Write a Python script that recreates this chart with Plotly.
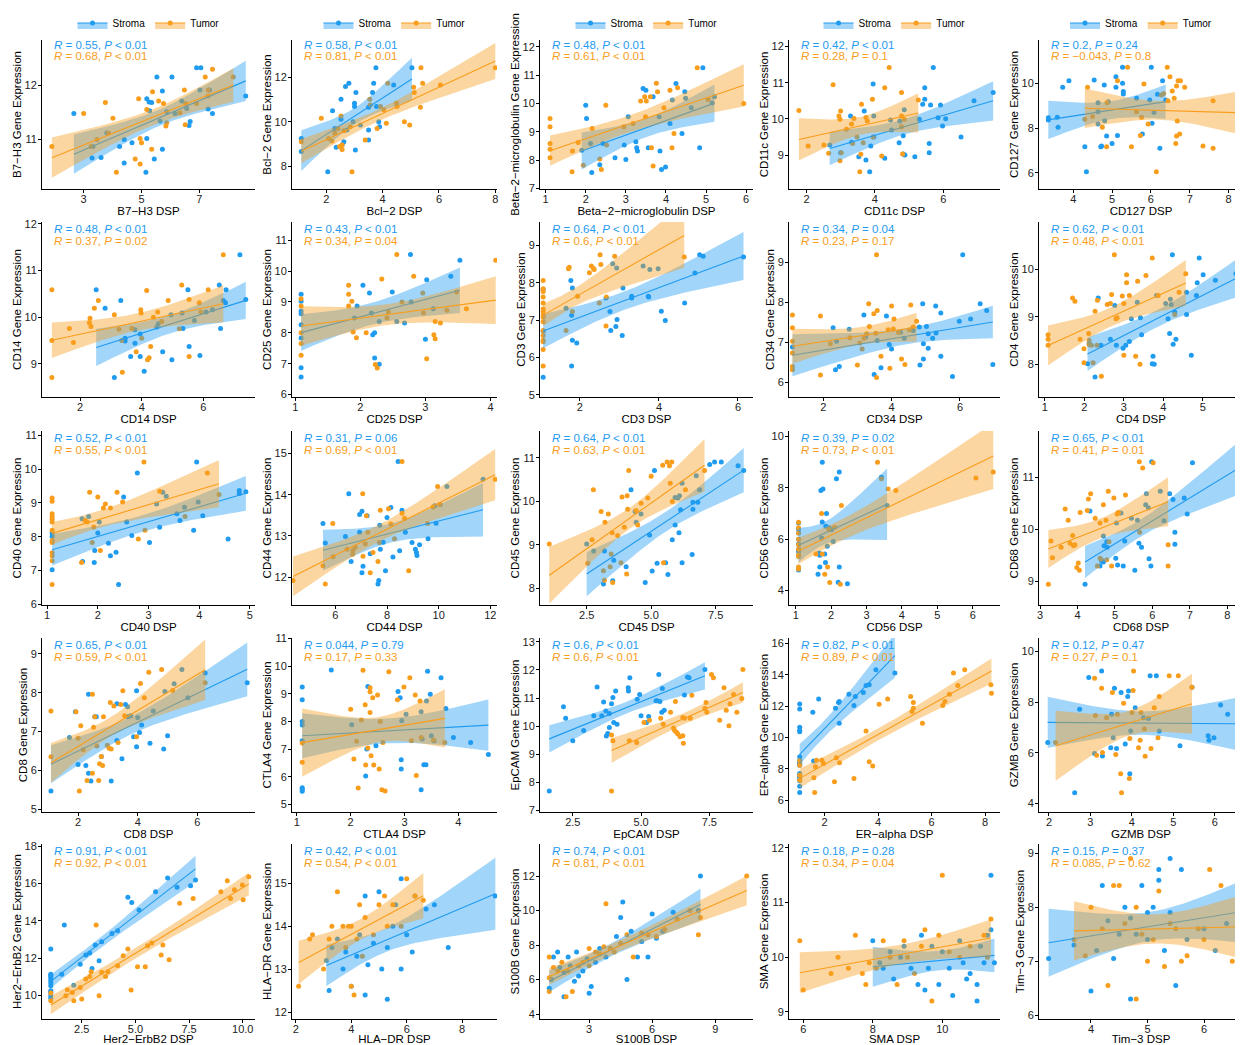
import numpy as np
import plotly.graph_objects as go

# The page body has an 8px default margin: pixel targets below are window pixels,
# converted to figure pixels by subtracting OFF.
OFF = 8
W, H = 1243 - OFF, 1045 - OFF
BLUE = "#1F9BF0"
ORANGE = "#F99D1C"
BLUE_FILL = "rgba(31,155,240,0.42)"
ORANGE_FILL = "rgba(249,157,28,0.42)"
FONT = "Liberation Sans, Arial, sans-serif"

# ---------------- data (x = DSP, y = gene expression) ----------------
B7H3_stroma = [(2.66,11.48),(3.29,10.66),(3.6,10.67),(3.32,10.87),(3.8,11.12),(4.24,10.87),(4.4,11.0),(4.4,10.57),(4.67,10.94),(5.18,11.02),(5.15,10.4),(5.44,10.64),(5.53,12.15),(5.72,11.89),(5.18,11.75),(5.26,11.69),(5.35,11.68),(5.28,11.53),(5.64,11.34),(5.72,10.82),(6.05,12.15),(5.87,11.51),(6.39,11.71),(6.56,11.57),(6.68,11.33),(6.64,11.26),(6.9,12.32),(7.05,12.32),(7.02,11.91),(7.3,11.56),(7.45,11.48),(7.35,11.91),(8.6,11.8),(6.16,11.48)]
B7H3_tumor = [(1.9,10.87),(3.0,11.48),(3.25,10.87),(3.46,11.0),(3.75,11.68),(3.86,11.12),(4.01,11.39),(4.13,10.4),(4.78,10.64),(4.9,11.75),(4.95,11.02),(4.95,10.55),(5.0,10.94),(5.18,11.55),(5.35,10.82),(5.38,11.88),(5.59,11.71),(5.76,11.66),(5.84,11.25),(5.87,11.31),(6.33,11.49),(6.48,11.91),(6.51,11.27),(6.53,11.66),(6.9,11.66),(7.2,12.15),(7.3,11.8),(7.3,11.91),(7.45,12.29),(8.17,12.15)]

BCL2_stroma = [(1.11,9.25),(1.11,8.66),(2.05,7.74),(2.22,10.5),(2.3,9.7),(2.35,8.85),(2.52,11.02),(2.52,10.12),(2.56,8.95),(2.62,9.1),(2.68,11.6),(2.8,11.74),(2.73,9.63),(3.0,10.84),(3.0,10.69),(3.05,11.32),(3.03,8.72),(2.95,10.0),(3.21,9.86),(3.5,10.66),(3.5,9.63),(3.5,9.18),(3.64,11.32),(3.68,11.74),(3.76,12.45),(3.78,10.69),(3.86,10.0),(3.89,9.78),(4.39,11.67),(5.04,12.45)]
BCL2_tumor = [(1.11,9.1),(1.82,10.16),(2.08,9.25),(2.2,9.13),(2.3,9.48),(2.41,9.7),(2.47,8.88),(2.56,8.75),(2.56,8.95),(2.52,10.26),(2.62,9.6),(2.91,7.74),(2.85,9.78),(3.38,9.18),(3.54,11.02),(3.56,10.76),(3.8,9.7),(3.92,10.69),(4.04,10.54),(4.13,9.93),(4.18,11.74),(4.49,10.84),(4.51,10.69),(4.77,10.0),(4.96,9.86),(5.1,11.56),(5.36,12.45),(5.42,11.74),(5.34,10.66),(5.12,11.32),(6.05,11.67),(8.0,12.45)]

B2M_stroma = [(1.9,8.35),(2.02,9.47),(2.12,8.59),(2.15,7.56),(2.0,9.94),(2.35,7.84),(2.43,8.59),(2.73,8.08),(2.96,8.53),(3.0,8.02),(3.06,9.53),(3.25,8.65),(3.27,8.44),(3.29,8.32),(3.43,10.53),(3.5,10.47),(3.56,8.44),(3.68,10.24),(3.83,9.53),(3.85,8.32),(3.89,7.67),(3.99,7.76),(4.1,9.29),(4.16,10.12),(4.25,10.7),(4.4,8.94),(4.47,10.41),(4.49,10.18),(4.63,9.85),(4.84,8.44),(4.92,11.26),(5.15,10.02),(5.21,10.24)]
B2M_tumor = [(1.11,9.47),(1.11,9.18),(1.11,8.59),(1.11,8.38),(1.11,8.08),(1.66,7.59),(1.67,8.32),(1.81,8.62),(1.94,7.82),(2.16,9.12),(2.35,8.04),(2.39,7.67),(2.5,9.94),(2.52,8.53),(2.95,9.18),(3.18,9.29),(3.37,10.09),(3.47,10.24),(3.49,9.53),(3.51,10.09),(3.61,10.24),(3.64,8.44),(3.68,7.79),(3.76,10.71),(3.79,10.41),(3.95,9.85),(4.1,10.47),(4.15,8.44),(4.2,8.94),(4.29,10.55),(4.78,11.26),(5.05,10.14),(5.94,10.0)]

CD11C_stroma = [(2.68,9.28),(3.0,9.06),(3.29,10.08),(3.32,9.35),(3.53,8.95),(3.69,10.22),(3.74,8.86),(3.85,8.54),(3.88,9.25),(3.95,10.96),(3.97,10.08),(3.97,9.5),(4.29,8.91),(4.46,9.97),(4.49,9.69),(4.71,9.34),(4.73,9.94),(4.83,9.53),(4.83,9.03),(4.88,9.0),(4.86,10.25),(5.17,8.95),(5.3,9.99),(5.4,10.4),(5.46,10.54),(5.46,10.86),(5.59,9.32),(5.59,9.06),(5.71,11.42),(5.63,10.38),(5.85,10.03),(5.92,10.38),(5.98,9.8),(6.07,10.0),(6.52,9.5),(6.9,10.5),(7.46,10.73)]
CD11C_tumor = [(1.78,10.23),(2.05,9.25),(2.51,9.28),(2.65,9.05),(2.78,10.94),(2.95,10.08),(2.98,9.99),(3.0,10.22),(2.98,8.84),(3.02,9.06),(3.17,9.71),(3.32,9.86),(3.35,9.32),(3.39,10.01),(3.48,9.5),(3.56,8.54),(3.59,9.02),(3.61,10.4),(3.66,9.34),(3.74,10.04),(3.78,9.94),(3.93,10.54),(3.95,9.5),(4.2,8.97),(4.29,10.86),(4.42,11.42),(4.78,10.73),(4.78,10.08),(4.78,9.78),(4.86,9.99),(4.81,9.03),(5.27,10.52)]

CD127_stroma = [(3.36,8.46),(3.36,8.36),(3.59,8.48),(3.61,8.03),(3.73,9.82),(3.89,10.12),(4.3,7.16),(4.34,6.04),(4.54,10.15),(4.64,9.13),(4.64,8.73),(4.64,8.18),(4.71,7.16),(4.73,7.19),(4.8,9.93),(4.81,8.33),(4.86,7.64),(4.9,9.18),(5.0,7.31),(5.1,10.3),(5.1,9.82),(5.14,7.66),(5.27,10.72),(5.27,10.0),(5.29,9.63),(5.29,9.52),(5.63,9.33),(5.78,7.73),(5.97,9.25),(6.01,10.72),(6.03,8.21),(6.08,8.7),(6.23,7.09),(6.3,10.12),(6.17,9.51),(6.38,9.25)]
CD127_tumor = [(4.3,8.39),(4.37,9.82),(4.5,8.51),(4.75,8.03),(4.86,7.16),(4.87,9.13),(5.14,10.12),(5.4,10.72),(5.5,7.16),(5.63,8.73),(5.73,7.66),(5.76,8.48),(5.82,9.97),(5.93,8.18),(6.14,6.04),(6.27,9.48),(6.33,9.55),(6.42,10.72),(6.44,9.22),(6.49,10.3),(6.55,9.66),(6.6,9.33),(6.64,7.31),(6.66,7.64),(6.66,9.88),(6.68,8.31),(6.7,10.12),(6.76,10.12),(6.74,7.73),(6.87,9.82),(7.34,7.19),(7.6,7.09),(7.6,9.22),(8.24,8.21),(8.34,8.69)]

CD14_stroma = [(2.52,10.59),(2.81,10.19),(3.11,8.71),(3.32,10.36),(3.46,9.49),(3.46,9.55),(3.64,9.16),(3.78,9.44),(3.78,9.73),(3.95,9.16),(3.95,9.64),(4.08,8.84),(4.49,9.79),(4.54,9.86),(4.68,9.26),(4.95,10.05),(4.98,9.09),(5.31,10.09),(5.34,9.76),(5.5,10.59),(5.54,9.37),(5.71,9.93),(5.89,9.18),(6.09,10.11),(6.3,10.16),(6.52,10.69),(6.56,9.76),(6.65,10.36),(6.72,10.31),(6.74,10.59),(7.19,11.34),(7.38,10.38)]
CD14_tumor = [(1.08,10.59),(1.08,9.5),(1.08,8.71),(1.65,9.76),(1.78,9.46),(2.3,9.88),(2.32,9.98),(2.35,9.8),(2.46,10.19),(2.59,10.36),(3.11,10.05),(3.26,9.74),(3.35,9.5),(3.37,8.82),(3.68,9.76),(3.82,9.26),(3.97,10.16),(3.98,10.09),(4.0,9.55),(4.16,10.57),(4.19,9.09),(4.24,9.13),(4.29,9.37),(4.38,10.0),(4.52,10.11),(4.65,9.91),(4.86,10.36),(5.22,9.75),(5.3,10.69),(5.54,10.38),(5.54,9.16),(5.87,10.31),(5.92,10.11),(6.16,10.59),(6.65,11.34)]

CD25_stroma = [(1.09,9.25),(1.09,9.02),(1.09,8.71),(1.09,8.62),(1.09,8.26),(1.09,7.83),(1.09,6.87),(1.09,6.57),(1.95,8.87),(1.91,8.48),(2.04,9.54),(2.14,9.29),(2.17,8.64),(2.19,7.94),(2.22,8.0),(2.22,7.18),(2.29,6.98),(2.29,8.37),(2.49,9.32),(2.56,8.37),(2.68,8.32),(2.77,10.54),(2.78,9.0),(3.0,7.79),(3.02,9.72),(3.39,9.83),(3.53,10.35),(3.12,8.78)]
CD25_tumor = [(1.09,8.87),(1.09,8.0),(1.09,7.65),(1.09,7.27),(1.09,9.1),(1.82,9.54),(1.82,9.25),(1.82,8.87),(1.87,9.02),(1.89,8.03),(1.94,7.84),(2.09,8.0),(2.23,6.97),(2.26,6.86),(2.33,9.74),(2.41,8.48),(2.43,8.68),(2.56,10.54),(2.64,9.0),(2.82,9.83),(2.97,8.64),(2.96,9.29),(3.02,7.16),(3.13,7.94),(3.15,7.81),(3.15,8.37),(3.23,8.32),(3.33,8.73),(3.48,9.32),(3.63,8.78),(4.08,10.35)]

CD3_stroma = [(1.07,7.82),(1.07,6.7),(1.07,5.47),(1.65,7.32),(1.77,8.06),(1.81,7.86),(1.79,7.13),(1.81,6.46),(1.79,5.77),(1.92,6.39),(2.66,7.59),(2.76,7.23),(2.78,6.72),(2.83,8.51),(2.91,6.83),(2.93,8.4),(2.94,7.02),(3.07,6.59),(3.09,7.86),(3.31,7.64),(3.31,7.59),(3.6,8.45),(3.73,7.64),(3.74,7.62),(3.77,8.36),(3.98,8.38),(4.06,7.24),(4.16,6.99),(4.65,7.46),(4.91,8.26),(5.03,8.75),(5.12,8.71),(6.14,8.69)]
CD3_tumor = [(1.07,8.06),(1.07,7.84),(1.07,7.77),(1.07,7.62),(1.07,7.46),(1.07,7.3),(1.07,7.23),(1.07,7.14),(1.07,7.08),(1.07,6.96),(1.07,6.72),(1.07,6.59),(1.07,6.46),(1.07,6.42),(1.07,6.21),(1.07,5.77),(1.65,6.72),(1.71,8.38),(1.73,8.42),(1.81,7.23),(1.94,7.64),(2.24,8.27),(2.29,8.45),(2.34,8.39),(2.36,8.36),(2.49,7.46),(2.51,8.75),(2.53,8.49),(2.66,6.84),(2.67,7.62),(2.88,8.71),(4.64,8.69)]

CD34_stroma = [(1.1,6.88),(2.29,7.36),(2.39,7.02),(2.36,6.31),(2.47,6.39),(2.76,7.32),(3.19,7.68),(3.24,7.13),(3.58,7.04),(3.49,6.19),(3.85,7.65),(3.69,6.36),(3.93,6.94),(4.0,6.83),(4.26,7.25),(4.37,7.1),(4.63,7.29),(4.81,7.38),(4.83,6.43),(4.91,7.96),(4.93,6.96),(4.93,6.58),(5.02,7.39),(5.07,6.85),(5.07,7.21),(5.2,7.1),(5.29,7.9),(5.3,7.23),(5.44,7.73),(5.44,6.65),(5.78,6.14),(5.98,7.52),(6.08,9.18),(6.31,7.58),(6.59,7.96),(6.78,7.79),(6.96,6.44)]
CD34_tumor = [(1.1,7.68),(1.1,7.36),(1.1,7.02),(1.1,6.73),(1.1,6.39),(1.1,6.31),(1.92,7.65),(1.92,6.18),(2.21,6.96),(2.78,7.11),(3.0,6.43),(3.07,6.98),(3.14,6.83),(3.19,7.1),(3.27,7.21),(3.33,7.96),(3.35,7.39),(3.48,7.71),(3.54,7.22),(3.56,9.18),(3.56,6.12),(3.58,7.79),(3.69,6.65),(3.9,7.31),(3.95,6.35),(4.0,7.9),(4.05,7.33),(4.07,7.58),(4.2,7.25),(4.29,6.58),(4.39,6.44),(4.52,7.31),(4.56,7.93),(4.63,7.38),(4.73,7.52)]

CD4_stroma = [(2.08,8.01),(2.12,8.44),(2.27,7.73),(2.35,9.4),(2.42,8.4),(2.66,8.53),(2.77,9.24),(2.81,8.4),(2.98,8.34),(3.05,8.4),(3.14,8.48),(3.19,8.96),(3.34,9.31),(3.42,8.98),(3.45,8.62),(3.72,8.01),(3.74,8.17),(3.77,8.0),(3.83,9.45),(4.06,9.28),(4.12,8.96),(4.16,8.65),(4.18,9.37),(4.2,9.26),(4.25,8.42),(4.23,10.31),(4.29,9.1),(4.32,8.53),(4.59,9.52),(4.59,9.05),(4.71,8.19),(4.84,9.45),(4.86,9.72),(4.91,10.24),(5.01,9.89),(5.32,9.77),(5.84,9.91),(5.98,9.89)]
CD4_tumor = [(1.08,8.62),(1.08,8.53),(1.08,8.4),(1.7,9.4),(1.76,9.33),(1.89,8.53),(1.99,8.33),(1.99,8.03),(2.11,8.65),(2.12,8.5),(2.12,8.41),(2.18,8.4),(2.22,8.03),(2.27,9.12),(2.32,8.4),(2.33,9.35),(2.43,7.75),(2.58,9.26),(2.66,9.28),(2.69,9.47),(2.76,10.31),(2.8,8.96),(2.83,8.98),(2.96,9.44),(3.0,9.28),(3.0,8.19),(3.07,9.89),(3.07,9.72),(3.14,9.45),(3.3,8.17),(3.35,9.75),(3.41,8.0),(3.56,9.87),(3.72,10.24),(3.87,9.45),(4.29,9.05),(4.4,9.52),(4.57,9.91)]

CD40_stroma = [(1.1,8.11),(1.1,8.01),(1.1,7.02),(1.69,8.53),(1.7,7.27),(1.82,8.6),(1.93,7.24),(1.94,7.59),(2.0,8.11),(2.03,8.44),(2.21,7.81),(2.25,7.44),(2.36,7.54),(2.41,6.59),(2.51,9.18),(2.57,8.44),(2.67,8.04),(2.78,9.89),(3.02,7.83),(3.16,8.97),(3.22,8.28),(3.28,9.32),(3.35,9.2),(3.56,8.68),(3.62,8.48),(3.71,8.87),(3.89,8.19),(3.95,10.21),(3.98,9.03),(4.07,8.62),(4.57,7.93),(4.79,9.28),(4.79,9.37),(4.92,9.33)]
CD40_tumor = [(1.1,9.15),(1.1,9.05),(1.1,8.68),(1.1,8.6),(1.1,8.52),(1.1,8.44),(1.1,8.19),(1.1,7.89),(1.1,7.83),(1.1,7.53),(1.1,7.44),(1.1,7.29),(1.1,6.59),(1.68,7.24),(1.75,8.48),(1.79,8.44),(1.84,9.32),(1.89,7.83),(1.92,8.29),(2.0,9.18),(2.05,7.59),(2.11,8.85),(2.15,8.97),(2.25,8.85),(2.38,9.32),(2.49,9.03),(2.8,7.93),(2.91,10.21),(2.93,8.19),(3.22,9.35),(3.72,8.6),(4.16,9.89),(4.39,9.25)]

CD44_stroma = [(5.52,13.3),(5.61,12.83),(6.39,12.99),(6.52,14.02),(6.61,12.38),(6.94,13.52),(6.94,13.09),(7.03,13.6),(7.03,12.11),(7.07,12.27),(7.23,13.49),(7.35,12.57),(7.65,11.84),(7.68,11.92),(7.72,13.26),(7.74,12.68),(7.85,12.85),(7.94,12.16),(8.0,13.45),(8.15,13.69),(8.23,12.49),(8.43,14.8),(8.49,12.64),(8.58,13.62),(8.71,13.09),(8.97,12.84),(9.1,12.68),(9.14,12.6),(9.16,12.53),(9.26,12.79),(9.59,12.93),(9.85,13.73),(9.9,13.31),(10.06,13.76),(10.32,14.2),(11.72,14.37)]
CD44_tumor = [(4.36,11.92),(5.52,12.28),(5.61,11.84),(5.9,13.3),(5.91,12.5),(6.45,12.68),(6.67,12.56),(6.68,12.65),(6.77,12.73),(7.06,14.02),(7.07,12.51),(7.16,12.81),(7.2,13.49),(7.26,13.09),(7.35,12.11),(7.46,12.6),(7.65,12.38),(7.7,12.84),(7.74,13.62),(8.06,13.66),(8.15,13.29),(8.29,12.93),(8.58,14.8),(8.58,13.55),(8.68,13.43),(8.84,12.16),(9.57,13.3),(9.78,13.7),(9.96,14.2),(10.04,13.76),(12.19,14.37)]

CD45_stroma = [(2.5,9.02),(2.77,8.86),(3.19,8.86),(3.15,8.1),(3.51,8.18),(3.55,8.65),(4.03,8.5),(4.22,10.27),(4.38,9.77),(4.42,9.52),(4.61,9.71),(4.77,8.14),(4.94,9.23),(5.04,8.4),(5.13,10.71),(5.23,8.58),(5.56,8.59),(5.65,8.32),(5.82,9.12),(5.93,9.46),(5.93,10.09),(6.04,10.08),(6.1,10.13),(6.08,9.28),(6.14,9.81),(6.2,8.59),(6.2,10.42),(6.59,8.78),(6.62,9.98),(6.62,9.82),(6.75,10.59),(6.81,9.98),(6.88,10.27),(7.27,10.85),(7.46,10.91),(7.72,10.91),(8.37,10.82),(8.59,10.71)]
CD45_tumor = [(1.05,9.02),(2.54,8.58),(2.71,9.12),(2.76,10.27),(3.06,9.77),(3.15,8.41),(3.19,8.19),(3.21,9.52),(3.34,9.71),(3.41,8.5),(3.45,8.79),(3.49,9.28),(3.51,8.14),(3.7,9.22),(3.83,8.59),(3.87,10.1),(3.96,9.41),(4.07,10.13),(4.09,9.82),(4.05,8.33),(4.13,10.71),(4.42,9.79),(4.48,9.46),(4.61,9.96),(4.87,10.08),(5.0,10.58),(5.45,10.83),(5.48,8.59),(5.62,10.91),(5.71,10.82),(5.74,10.42),(5.8,10.91),(5.82,10.0),(6.33,10.27),(7.07,10.71)]

CD56_stroma = [(1.08,6.63),(1.08,6.4),(1.08,6.24),(1.08,6.0),(1.08,5.81),(1.08,5.61),(1.08,5.52),(1.08,5.33),(1.08,4.8),(1.66,5.46),(1.68,5.37),(1.68,4.91),(1.63,4.63),(1.71,7.9),(1.73,6.04),(1.75,6.67),(1.75,9.0),(1.77,7.96),(1.82,5.42),(1.84,5.09),(1.85,6.5),(1.87,7.0),(1.89,5.72),(1.94,6.44),(2.01,6.37),(2.06,5.91),(2.15,8.36),(2.2,4.32),(2.23,8.62),(2.23,4.91),(2.46,4.26),(3.42,8.42),(3.58,7.31)]
CD56_tumor = [(1.08,6.66),(1.08,6.44),(1.08,6.24),(1.08,6.0),(1.08,5.78),(1.08,5.61),(1.08,5.39),(1.08,5.33),(1.08,4.91),(1.08,4.83),(1.57,5.42),(1.73,7.0),(1.75,5.42),(1.82,4.63),(1.9,4.91),(1.94,6.37),(1.96,4.31),(2.1,6.46),(2.26,4.24),(2.29,7.31),(3.31,9.0),(3.42,8.36),(3.61,7.96),(3.83,7.9),(6.09,8.39),(6.58,8.62)]

CD68_stroma = [(4.2,8.94),(4.33,10.35),(4.6,9.29),(4.64,9.39),(4.69,9.87),(4.69,9.37),(4.71,9.68),(4.78,9.76),(4.79,9.65),(5.02,9.44),(5.07,9.31),(5.04,10.12),(5.16,10.31),(5.22,9.29),(5.26,9.77),(5.44,10.21),(5.53,9.21),(5.6,10.17),(5.64,9.73),(5.71,9.65),(5.84,10.68),(5.82,10.47),(5.89,10.41),(5.91,9.43),(5.96,9.29),(5.98,11.3),(6.21,10.73),(6.31,10.16),(6.46,10.68),(6.55,10.57),(6.6,9.94),(6.6,9.71),(6.85,10.6),(6.93,10.29),(7.07,11.28),(8.37,11.2)]
CD68_tumor = [(3.22,8.94),(3.29,9.77),(3.33,9.45),(3.56,9.65),(3.67,10.39),(3.75,10.17),(3.8,9.73),(3.87,9.88),(3.89,9.68),(3.93,9.7),(3.98,9.26),(4.02,9.35),(4.05,9.21),(4.07,10.32),(4.26,10.36),(4.29,10.58),(4.35,10.68),(4.47,10.21),(4.53,9.29),(4.6,10.12),(4.6,9.44),(4.63,9.42),(4.69,10.47),(4.76,10.17),(4.78,9.41),(4.82,10.73),(4.84,9.76),(4.91,9.29),(4.97,10.6),(5.06,10.29),(5.09,10.32),(5.28,10.66),(5.65,11.3),(5.74,11.18),(5.66,9.94),(6.02,11.28),(6.42,9.7),(6.42,9.29)]

CD8_stroma = [(1.09,5.47),(1.71,6.85),(1.91,7.51),(2.0,6.15),(2.26,6.13),(2.35,5.93),(2.35,7.96),(2.43,5.73),(2.56,7.38),(2.61,7.38),(2.78,6.36),(3.11,5.73),(3.3,6.77),(3.3,7.72),(3.47,6.3),(3.59,7.7),(3.67,7.38),(3.66,7.64),(3.76,7.41),(3.86,6.87),(3.96,8.05),(3.96,6.61),(4.0,7.36),(4.06,6.98),(4.13,7.17),(4.41,6.7),(4.52,7.53),(4.87,6.55),(4.91,8.03),(5.0,6.89),(5.22,8.23),(5.48,8.6),(5.68,7.87),(6.26,8.51),(7.67,8.26)]
CD8_tumor = [(1.09,7.53),(1.09,6.35),(1.93,7.51),(2.0,6.83),(2.04,5.47),(2.09,7.15),(2.17,6.53),(2.3,5.74),(2.48,5.93),(2.48,7.96),(2.52,7.11),(2.56,7.38),(2.63,6.63),(2.69,5.74),(2.72,6.17),(2.78,6.36),(2.82,6.13),(2.85,7.38),(2.98,6.65),(3.04,6.57),(3.08,7.75),(3.11,6.55),(3.2,7.66),(3.34,6.72),(3.43,7.7),(3.5,8.05),(3.56,7.41),(3.96,6.87),(4.09,8.24),(4.22,7.87),(4.37,8.53),(4.8,8.6),(5.17,8.06),(6.26,8.26)]

CTLA4_stroma = [(1.1,9.25),(1.1,8.78),(1.1,8.0),(1.1,7.87),(1.1,7.3),(1.1,5.6),(1.1,5.54),(1.1,5.47),(1.64,9.86),(2.02,7.88),(2.28,6.02),(2.3,7.0),(2.32,9.26),(2.47,7.12),(2.88,9.08),(2.92,8.86),(2.94,6.61),(2.94,6.28),(2.95,8.02),(3.03,8.26),(3.31,8.35),(3.31,5.53),(3.33,7.36),(3.36,6.43),(3.4,6.43),(3.41,8.74),(3.43,9.82),(3.48,8.98),(3.5,7.48),(3.55,7.3),(3.68,9.58),(3.77,8.47),(3.91,7.42),(4.23,7.24),(4.56,6.8)]
CTLA4_tumor = [(1.1,7.22),(1.1,6.52),(2.0,8.44),(2.06,6.64),(2.14,5.59),(2.11,7.28),(2.2,8.05),(2.23,9.85),(2.27,8.6),(2.28,6.42),(2.32,7.04),(2.36,9.22),(2.36,9.07),(2.36,8.32),(2.38,6.76),(2.41,8.86),(2.43,6.42),(2.5,8.96),(2.53,6.28),(2.55,8.0),(2.58,5.53),(2.6,7.24),(2.64,5.48),(2.71,9.8),(2.87,8.78),(2.99,9.25),(3.1,9.58),(3.13,7.3),(3.2,8.96),(3.22,6.04),(3.29,8.74),(3.31,7.42),(3.54,7.33),(3.75,7.24)]

EPCAM_stroma = [(1.64,7.69),(2.16,10.69),(2.24,10.28),(2.5,9.48),(2.9,9.84),(3.27,10.37),(3.56,10.37),(3.39,11.39),(3.63,10.86),(3.71,10.54),(3.73,9.65),(3.78,9.74),(3.84,9.95),(3.84,10.45),(3.92,10.8),(3.97,11.02),(4.0,10.13),(4.07,11.25),(4.12,10.07),(4.59,11.72),(4.53,11.37),(4.54,11.25),(4.86,10.96),(4.95,11.13),(5.0,10.37),(5.2,10.13),(5.28,10.34),(5.55,10.9),(5.58,10.9),(5.65,11.84),(5.69,10.88),(5.76,10.49),(5.78,11.34),(5.85,10.57),(6.59,11.11),(6.7,11.75),(6.76,11.72),(7.34,12.02)]
EPCAM_tumor = [(3.92,7.69),(3.92,9.68),(3.97,9.48),(4.57,9.48),(4.84,9.42),(5.11,10.13),(5.31,10.21),(5.72,10.28),(5.81,10.07),(6.08,10.49),(6.19,9.93),(6.23,9.84),(6.3,9.78),(6.35,9.72),(6.43,9.62),(6.53,9.66),(6.55,9.39),(6.26,10.88),(6.53,10.31),(6.59,10.28),(6.8,10.28),(6.86,11.1),(7.34,10.63),(7.38,10.84),(7.41,10.49),(7.58,11.84),(7.65,11.72),(7.88,10.21),(8.04,11.37),(8.22,10.01),(8.26,10.8),(8.39,11.13),(8.51,10.49),(8.73,12.02),(8.69,10.98),(8.12,10.57)]

ERA_stroma = [(1.07,12.15),(1.07,11.83),(1.07,10.66),(1.07,10.45),(1.07,10.38),(1.07,8.78),(1.07,8.56),(1.07,8.41),(1.07,8.35),(1.07,8.24),(1.07,7.71),(1.07,7.6),(1.07,7.5),(1.07,7.39),(1.07,7.24),(1.07,6.9),(1.07,6.49),(1.56,11.62),(1.59,8.5),(1.78,12.47),(2.41,11.88),(2.52,12.24),(2.55,12.3),(2.55,10.91),(2.91,12.77),(3.1,12.05),(3.15,12.62),(3.45,12.88),(3.55,13.33),(3.67,13.37),(3.92,14.33),(4.63,14.12)]
ERA_tumor = [(1.07,8.52),(1.07,8.24),(1.07,7.6),(1.07,7.28),(1.6,7.43),(1.63,6.49),(1.66,8.14),(1.7,8.56),(1.9,8.56),(1.96,8.35),(2.37,7.18),(2.44,8.71),(2.56,8.39),(3.1,7.39),(3.55,10.42),(3.67,8.46),(3.8,8.18),(4.04,12.13),(4.36,12.47),(5.22,12.62),(5.27,11.66),(5.32,12.24),(5.32,11.88),(5.66,10.91),(6.42,12.05),(6.5,12.3),(6.67,12.77),(6.82,14.12),(6.98,13.33),(7.24,14.33),(8.22,13.37),(8.24,12.84)]

GZMB_stroma = [(1.97,6.41),(2.62,4.43),(2.74,7.72),(2.96,8.97),(3.1,5.98),(3.27,9.23),(3.29,5.88),(3.49,6.2),(3.51,7.52),(3.55,6.6),(3.58,8.55),(3.63,6.17),(3.74,8.38),(3.84,6.35),(3.9,8.22),(3.92,8.44),(3.95,5.18),(3.97,6.86),(4.08,7.78),(4.28,7.39),(4.4,7.36),(4.44,9.04),(4.59,9.04),(4.66,6.86),(5.16,6.28),(5.45,8.59),(5.84,6.68),(5.86,6.5),(5.98,6.6),(6.14,7.89),(6.31,7.52),(6.68,4.99)]
GZMB_tumor = [(2.16,6.41),(3.1,8.94),(3.12,7.47),(3.15,5.91),(3.27,8.55),(3.29,6.02),(3.39,7.39),(3.53,8.38),(3.61,5.94),(3.65,7.52),(3.73,5.18),(3.75,4.43),(3.8,7.96),(3.94,4.99),(3.95,6.57),(4.0,7.59),(4.03,8.46),(4.04,9.23),(4.16,6.2),(4.2,6.5),(4.22,7.59),(4.3,6.94),(4.32,5.87),(4.46,6.17),(4.54,7.78),(4.63,6.6),(4.66,8.22),(4.9,9.04),(5.12,9.04),(5.45,8.59)]

HER2_stroma = [(1.06,12.48),(1.06,11.13),(1.06,11.08),(1.06,11.01),(1.06,10.9),(1.06,10.78),(1.06,10.65),(1.06,10.51),(1.06,10.24),(1.06,10.19),(1.06,10.12),(1.06,9.97),(1.06,9.83),(1.57,11.13),(1.69,13.77),(2.13,10.54),(2.43,11.67),(2.69,12.16),(2.87,12.27),(2.98,11.44),(3.13,12.7),(3.31,11.85),(3.43,12.87),(3.91,13.32),(4.17,13.47),(4.65,15.26),(4.83,14.99),(5.17,14.58),(5.94,15.56),(6.5,16.3),(6.94,15.8),(7.57,15.88),(7.8,16.2)]
HER2_tumor = [(1.06,10.12),(1.06,9.7),(1.76,9.97),(1.83,10.29),(2.06,10.15),(2.13,9.7),(2.43,10.42),(2.5,9.79),(2.69,10.87),(2.87,11.0),(2.94,11.26),(3.17,13.77),(3.31,9.97),(3.43,11.23),(3.61,11.0),(3.72,11.26),(4.17,11.58),(4.43,12.12),(4.65,12.48),(4.8,10.28),(5.1,11.53),(5.46,11.53),(5.57,12.66),(5.76,12.8),(6.28,12.7),(6.2,12.16),(6.57,11.91),(7.06,14.95),(7.69,15.2),(8.98,15.56),(9.28,16.15),(9.43,15.2),(9.61,15.67),(9.98,15.92),(10.02,15.13),(10.28,16.37)]

HLADR_stroma = [(3.1,13.2),(3.2,12.5),(3.3,13.5),(3.5,13.7),(3.7,13.0),(3.8,13.4),(4.0,12.6),(4.2,13.3),(4.3,13.8),(4.5,14.7),(4.5,12.4),(4.6,13.1),(4.8,13.6),(5.0,14.8),(5.1,13.0),(5.3,12.3),(5.3,13.5),(5.5,14.0),(5.6,14.5),(5.8,15.1),(5.8,13.0),(6.0,13.8),(6.2,13.4),(6.3,14.7),(6.7,14.4),(7.0,14.5),(7.5,13.5),(9.2,14.7)]
HLADR_tumor = [(2.1,12.6),(2.5,13.7),(2.6,13.8),(3.0,13.0),(3.2,13.7),(3.3,14.0),(3.5,14.8),(3.7,14.0),(3.8,13.5),(3.9,14.0),(4.0,14.0),(4.0,12.6),(4.1,12.4),(4.2,13.7),(4.3,14.5),(4.4,13.3),(4.5,14.2),(4.8,13.8),(5.0,14.5),(5.2,14.7),(5.3,14.0),(5.5,14.5),(5.8,14.0),(6.0,15.1),(6.3,14.7),(6.6,14.6)]

S100B_stroma = [(1.1,5.5),(1.2,6.0),(1.3,7.3),(1.5,7.6),(1.6,6.7),(1.8,5.0),(1.8,6.4),(2.0,7.3),(2.1,6.8),(2.3,5.9),(2.4,7.6),(2.5,6.2),(2.7,6.5),(2.9,7.2),(3.0,5.2),(3.1,5.6),(3.3,7.0),(3.5,7.8),(3.8,7.3),(4.0,7.8),(4.3,8.5),(4.5,9.6),(4.6,10.5),(4.8,6.0),(5.0,8.8),(5.3,7.3),(5.5,8.2),(5.8,7.3),(6.0,9.8),(6.2,8.4),(6.5,8.8),(7.0,9.9),(8.3,12.0),(8.2,10.0)]
S100B_tumor = [(1.1,5.3),(1.1,6.1),(1.1,7.3),(1.3,6.7),(1.5,6.5),(1.7,7.0),(1.9,5.0),(2.0,6.5),(2.2,5.3),(2.5,6.8),(2.7,7.0),(3.0,6.8),(3.0,7.8),(3.3,7.6),(3.5,7.5),(3.7,7.9),(3.8,10.4),(4.0,7.8),(4.2,7.6),(4.5,8.1),(4.8,8.6),(5.1,7.3),(5.5,8.7),(5.8,8.6),(6.2,8.5),(6.6,8.9),(7.2,9.5),(7.8,10.0),(8.2,8.6),(8.3,9.6),(10.5,12.0)]

SMA_stroma = [(8.0,10.3),(8.2,9.9),(8.3,9.8),(8.5,10.1),(8.6,9.6),(8.8,10.0),(8.9,10.2),(9.1,9.8),(9.3,9.5),(9.4,10.4),(9.5,9.4),(9.6,9.8),(9.7,10.2),(9.9,9.5),(10.0,10.1),(10.2,9.8),(10.3,9.3),(10.5,10.3),(10.6,9.9),(10.7,9.6),(10.8,9.7),(11.0,9.5),(11.0,9.2),(11.1,10.2),(11.2,9.9),(11.3,10.4),(11.4,10.5),(11.4,11.5),(11.5,9.9)]
SMA_tumor = [(5.9,10.3),(6.0,9.4),(6.8,9.7),(7.0,10.0),(7.3,9.8),(7.5,10.4),(7.7,9.7),(7.8,9.5),(7.9,9.9),(8.1,9.8),(8.3,10.3),(8.5,10.0),(8.7,9.5),(8.9,10.3),(9.0,10.0),(9.2,9.7),(9.4,10.2),(9.5,10.5),(9.7,9.2),(9.9,10.4),(10.0,11.5),(10.2,10.1),(10.5,10.0),(10.8,10.2),(11.2,10.4),(11.3,10.0),(11.4,10.7)]

TIM3_stroma = [(3.25,7.05),(3.7,7.3),(4.0,6.45),(4.1,7.2),(4.2,8.4),(4.3,7.75),(4.4,7.05),(4.5,7.5),(4.6,8.0),(4.7,6.3),(4.7,7.8),(4.8,7.5),(4.9,8.4),(5.0,7.9),(5.0,7.4),(5.1,8.0),(5.2,8.5),(5.2,8.7),(5.3,7.2),(5.4,8.9),(5.4,7.9),(5.5,6.55),(5.6,8.7),(5.7,7.4),(6.0,7.6),(6.2,7.2),(6.4,7.7),(6.75,6.8),(6.75,8.6)]
TIM3_tumor = [(3.7,7.4),(3.9,7.1),(4.0,8.0),(4.2,7.6),(4.3,6.55),(4.4,8.4),(4.5,8.4),(4.6,7.7),(4.7,8.9),(4.8,6.3),(4.8,8.0),(4.9,7.5),(5.0,7.0),(5.1,7.4),(5.2,8.3),(5.3,6.9),(5.4,7.7),(5.5,7.6),(5.6,7.0),(5.7,7.1),(5.9,7.6),(6.0,7.4),(6.1,8.7),(6.3,8.4),(6.5,7.0),(6.6,7.6)]

MARKERS = ["B7−H3", "Bcl−2", "Beta−2−microglobulin", "CD11c", "CD127",
           "CD14", "CD25", "CD3", "CD34", "CD4",
           "CD40", "CD44", "CD45", "CD56", "CD68",
           "CD8", "CTLA4", "EpCAM", "ER−alpha", "GZMB",
           "Her2−ErbB2", "HLA−DR", "S100B", "SMA", "Tim−3"]

STROMA = [B7H3_stroma, BCL2_stroma, B2M_stroma, CD11C_stroma, CD127_stroma,
          CD14_stroma, CD25_stroma, CD3_stroma, CD34_stroma, CD4_stroma,
          CD40_stroma, CD44_stroma, CD45_stroma, CD56_stroma, CD68_stroma,
          CD8_stroma, CTLA4_stroma, EPCAM_stroma, ERA_stroma, GZMB_stroma,
          HER2_stroma, HLADR_stroma, S100B_stroma, SMA_stroma, TIM3_stroma]
TUMOR = [B7H3_tumor, BCL2_tumor, B2M_tumor, CD11C_tumor, CD127_tumor,
         CD14_tumor, CD25_tumor, CD3_tumor, CD34_tumor, CD4_tumor,
         CD40_tumor, CD44_tumor, CD45_tumor, CD56_tumor, CD68_tumor,
         CD8_tumor, CTLA4_tumor, EPCAM_tumor, ERA_tumor, GZMB_tumor,
         HER2_tumor, HLADR_tumor, S100B_tumor, SMA_tumor, TIM3_tumor]

STATS_STROMA = [("0.55","<","0.01"),("0.58","<","0.01"),("0.48","<","0.01"),("0.42","<","0.01"),("0.2","=","0.24"),
                ("0.48","<","0.01"),("0.43","<","0.01"),("0.64","<","0.01"),("0.34","=","0.04"),("0.62","<","0.01"),
                ("0.52","<","0.01"),("0.31","=","0.06"),("0.64","<","0.01"),("0.39","=","0.02"),("0.65","<","0.01"),
                ("0.65","<","0.01"),("0.044","=","0.79"),("0.6","<","0.01"),("0.82","<","0.01"),("0.12","=","0.47"),
                ("0.91","<","0.01"),("0.42","<","0.01"),("0.74","<","0.01"),("0.18","=","0.28"),("0.15","=","0.37")]
STATS_TUMOR = [("0.68","<","0.01"),("0.81","<","0.01"),("0.61","<","0.01"),("0.28","=","0.1"),("−0.043","=","0.8"),
               ("0.37","=","0.02"),("0.34","=","0.04"),("0.6","<","0.01"),("0.23","=","0.17"),("0.48","<","0.01"),
               ("0.55","<","0.01"),("0.69","<","0.01"),("0.63","<","0.01"),("0.73","<","0.01"),("0.41","=","0.01"),
               ("0.59","<","0.01"),("0.17","=","0.33"),("0.6","<","0.01"),("0.89","<","0.01"),("0.27","=","0.1"),
               ("0.92","<","0.01"),("0.54","<","0.01"),("0.81","<","0.01"),("0.34","=","0.04"),("0.085","=","0.62")]

X_TICKS = [["3","5","7"], ["2","4","6","8"], ["1","2","3","4","5","6"], ["2","4","6"], ["4","5","6","7","8"],
           ["2","4","6"], ["1","2","3","4"], ["2","4","6"], ["2","4","6"], ["1","2","3","4","5","6"],
           ["1","2","3","4","5"], ["6","8","10","12"], ["2.5","5.0","7.5"], ["1","2","3","4","5","6"], ["3","4","5","6","7","8"],
           ["2","4","6","8"], ["1","2","3","4"], ["2.5","5.0","7.5"], ["2","4","6","8"], ["2","3","4","5","6"],
           ["2.5","5.0","7.5","10.0"], ["2","4","6","8"], ["3","6","9"], ["6","8","10"], ["4","5","6"]]
Y_TICKS = [["11","12"], ["8","10","12"], ["7","8","9","10","11","12"], ["9","10","11","12"], ["6","8","10"],
           ["9","10","11","12"], ["6","7","8","9","10","11"], ["5","6","7","8","9"], ["6","7","8","9"], ["8","9","10"],
           ["6","7","8","9","10","11"], ["12","13","14","15"], ["8","9","10","11"], ["4","6","8","10"], ["9","10","11"],
           ["5","6","7","8","9"], ["5","6","7","8","9","10","11"], ["7","8","9","10","11","12","13"], ["6","8","10","12","14","16"], ["4","6","8","10"],
           ["10","12","14","16","18"], ["12","13","14","15"], ["4","6","8","10","12"], ["9","10","11","12"], ["6","7","8","9"]]

# ---------------- layout (window pixels) ----------------
X_RANGES = [(1.56,8.92),(0.78,8.06),(0.86,6.17),(1.49,7.66),(3.12,8.37),
            (0.76,7.68),(0.95,4.10),(0.99,6.38),(1.00,7.17),(0.85,6.02),
            (0.90,5.10),(4.32,12.26),(0.69,8.95),(0.81,6.77),(2.97,8.42),
            (0.79,7.93),(0.91,4.72),(1.30,9.10),(0.67,8.56),(1.76,6.68),
            (0.65,10.57),(1.86,9.26),(0.66,10.80),(5.59,11.66),(3.08,6.69)]
Y_RANGES = [(10.09,12.83),(6.96,13.70),(6.98,12.24),(8.06,12.18),(5.27,11.94),
            (8.29,12.04),(5.92,11.59),(4.94,9.63),(5.63,10.00),(7.31,11.00),
            (5.98,11.13),(11.33,15.54),(7.62,11.62),(3.43,10.22),(8.54,11.89),
            (4.93,9.41),(4.72,11.02),(6.94,13.14),(5.25,16.36),(3.67,10.53),
            (8.72,18.13),(11.84,15.91),(3.71,13.86),(8.87,12.07),(5.93,9.17)]
COL_PX = [(42, 255), (292, 497), (540, 753), (789, 1000), (1039, 1243)]
ROW_PX = [(40, 189), (222, 397), (431, 605), (638, 812), (844, 1019)]


def fx(p):
    return (p - OFF) / W


def fy(p):
    return 1 - (p - OFF) / H


def t975(df):
    z = 1.959964
    return (z + (z**3 + z) / (4 * df) + (5 * z**5 + 16 * z**3 + 3 * z) / (96 * df**2)
            + (3 * z**7 + 19 * z**5 + 17 * z**3 - 15 * z) / (384 * df**3))


def lm_band(pts):
    x = np.array([p[0] for p in pts], float)
    y = np.array([p[1] for p in pts], float)
    n = len(x)
    b, a = np.polyfit(x, y, 1)
    g = np.linspace(x.min(), x.max(), 80)
    fit = a + b * g
    s = np.sqrt(np.sum((y - (a + b * x)) ** 2) / (n - 2))
    sxx = np.sum((x - x.mean()) ** 2)
    se = s * np.sqrt(1.0 / n + (g - x.mean()) ** 2 / sxx)
    t = t975(n - 2)
    return g, fit, fit - t * se, fit + t * se


def stat_text(st):
    r, rel, p = st
    rel = "&lt;" if rel == "<" else "="
    return f"<i>R</i> = {r}, <i>P</i> {rel} {p}"


fig = go.Figure()
layout = dict(width=W, height=H, margin=dict(l=0, r=0, t=0, b=0, autoexpand=False),
              paper_bgcolor="white", plot_bgcolor="white",
              font=dict(family=FONT, color="black", size=11), showlegend=True)
annotations = []

for i in range(25):
    r, c = divmod(i, 5)
    k = "" if i == 0 else str(i + 1)
    xa, ya = "x" + k, "y" + k
    x0, x1 = COL_PX[c]
    y0, y1 = ROW_PX[r]
    layout["xaxis" + k] = dict(
        domain=[fx(x0), min(1.0, fx(x1))], anchor=ya, range=list(X_RANGES[i]),
        tickvals=[float(t) for t in X_TICKS[i]], ticktext=X_TICKS[i],
        showline=True, linecolor="black", linewidth=1, ticks="outside", ticklen=3,
        tickcolor="black", showgrid=False, zeroline=False, automargin=False,
        ticklabelstandoff=-3,
        tickfont=dict(size=11, color="#222"),
        title=dict(text=f"{MARKERS[i]} DSP", font=dict(size=11.5), standoff=0))
    layout["yaxis" + k] = dict(
        domain=[fy(y1), fy(y0)], anchor=xa, range=list(Y_RANGES[i]),
        tickvals=[float(t) for t in Y_TICKS[i]], ticktext=Y_TICKS[i],
        showline=True, linecolor="black", linewidth=1, ticks="outside", ticklen=3,
        tickcolor="black", showgrid=False, zeroline=False, automargin=False,
        ticklabelstandoff=-1,
        tickfont=dict(size=11, color="#222"),
        title=dict(text=f"{MARKERS[i]} Gene Expression", font=dict(size=11.5), standoff=0))

    s_pts, t_pts = STROMA[i], TUMOR[i]
    for pts, col in ((s_pts, BLUE), (t_pts, ORANGE)):
        fig.add_trace(go.Scatter(x=[p[0] for p in pts], y=[p[1] for p in pts], mode="markers",
                                 marker=dict(color=col, size=5), xaxis=xa, yaxis=ya,
                                 showlegend=False, hoverinfo="skip"))
    for pts, col, fcol in ((s_pts, BLUE, BLUE_FILL), (t_pts, ORANGE, ORANGE_FILL)):
        g, fit, lo, hi = lm_band(pts)
        fig.add_trace(go.Scatter(x=np.concatenate([g, g[::-1]]), y=np.concatenate([hi, lo[::-1]]),
                                 mode="lines", fill="toself", fillcolor=fcol, line=dict(width=0),
                                 xaxis=xa, yaxis=ya, showlegend=False, hoverinfo="skip"))
        fig.add_trace(go.Scatter(x=g, y=fit, mode="lines", line=dict(color=col, width=1.1),
                                 xaxis=xa, yaxis=ya, showlegend=False, hoverinfo="skip"))

    off = (5.5, 16.5) if r == 0 else (7, 19)
    for st, col, dy in ((STATS_STROMA[i], BLUE, off[0]), (STATS_TUMOR[i], ORANGE, off[1])):
        annotations.append(dict(text=stat_text(st), xref="paper", yref="paper",
                                x=fx(x0 + 10), y=fy(y0 + dy), xanchor="left", yanchor="middle",
                                showarrow=False, font=dict(size=11.5, color=col)))

    if r == 0:
        lg = "legend" if c == 0 else f"legend{c + 1}"
        layout[lg] = dict(orientation="h", x=fx((x0 + x1) / 2), y=fy(23), xanchor="center",
                          yanchor="middle", font=dict(size=10), bgcolor="rgba(0,0,0,0)",
                          itemwidth=30, tracegroupgap=0)
        for name, col, fcol in (("Stroma", BLUE, BLUE_FILL), ("Tumor", ORANGE, ORANGE_FILL)):
            fig.add_trace(go.Scatter(x=[None], y=[None], name=name, mode="lines+markers",
                                     fill="toself", fillcolor=fcol, line=dict(color=col, width=1),
                                     marker=dict(color=col, size=5), xaxis=xa, yaxis=ya,
                                     legend=lg, showlegend=True))

layout["annotations"] = annotations
fig.update_layout(**layout)
fig.write_html("out.html")
